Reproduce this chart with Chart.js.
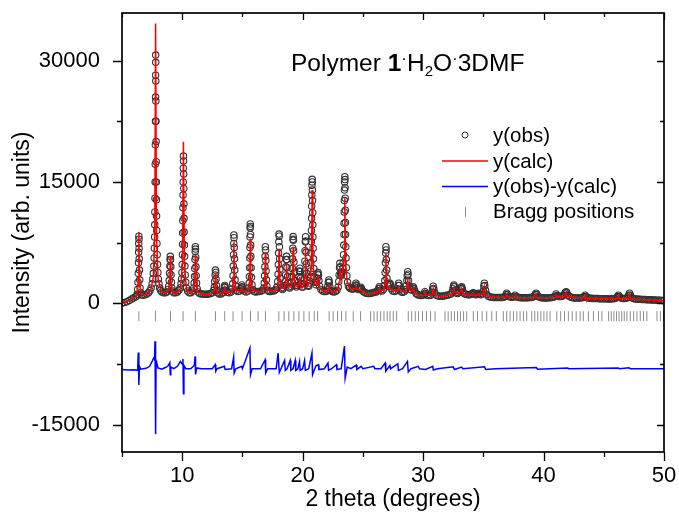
<!DOCTYPE html>
<html>
<head>
<meta charset="utf-8">
<script src="https://cdn.jsdelivr.net/npm/chart.js@4.4.0/dist/chart.umd.min.js"></script>
<style>
  html, body { margin: 0; padding: 0; background: #fff; }
  #wrap { width: 679px; height: 514px; }
</style>
</head>
<body>
<div id="wrap"><canvas id="chart" width="679" height="514"></canvas></div>
<script>
// 2 theta axis labels and intensity labels
const xMajor = [10, 20, 30, 40, 50];
const xMinor = [5, 15, 25, 35, 45];
const yMajor = [-15000, 0, 15000, 30000];
const yMinor = [-7500, 7500, 22500];

const yObs = [
  [5.00,40],[5.20,90],[5.40,180],[5.60,330],[5.80,520],[5.95,650],[6.10,760],[6.20,850],
  [6.26,1100],[6.30,1700],[6.33,2600],[6.35,3700],[6.37,5000],[6.38,6300],[6.39,7400],[6.40,8300],[6.41,7900],[6.42,6800],[6.43,5500],[6.45,4100],[6.47,2900],[6.50,1900],[6.54,1300],
  [6.62,1050],[6.75,1000],[6.90,1050],[7.05,1150],[7.20,1300],[7.32,1550],[7.42,1900],[7.50,2400],[7.56,3000],
  [7.60,3700],[7.64,4600],[7.67,5600],[7.69,6800],[7.71,8200],[7.72,9700],[7.73,11300],[7.74,13000],[7.75,15000],[7.76,17200],[7.77,19600],[7.78,22500],[7.785,25500],[7.79,28200],[7.795,30700],
  [7.80,29800],[7.805,27500],[7.81,25000],[7.82,22500],[7.83,20000],[7.84,17500],[7.85,15000],[7.86,12800],[7.87,10800],[7.88,9000],[7.90,7400],[7.92,6000],[7.95,4800],[7.98,3800],[8.02,3000],[8.07,2400],[8.13,1900],[8.20,1600],
  [8.30,1400],[8.45,1300],[8.60,1300],[8.72,1400],[8.82,1700],
  [8.88,2100],[8.92,2800],[8.95,3700],[8.97,4600],[8.99,5400],[9.01,5800],[9.03,5400],[9.05,4500],[9.07,3500],[9.10,2600],[9.14,1900],[9.20,1500],
  [9.30,1300],[9.45,1300],[9.60,1400],[9.72,1600],[9.82,1900],[9.90,2400],[9.95,3000],
  [9.98,3800],[10.00,4800],[10.02,6000],[10.03,7300],[10.04,8700],[10.05,10200],[10.06,11800],[10.07,13400],[10.08,15000],[10.09,16700],[10.10,18200],
  [10.11,17600],[10.12,16000],[10.13,14200],[10.14,12300],[10.15,10500],[10.16,8800],[10.18,7200],[10.20,5800],[10.22,4600],[10.25,3500],[10.29,2600],[10.35,1900],[10.45,1500],
  [10.58,1300],[10.72,1300],[10.85,1500],[10.95,1900],
  [10.99,2500],[11.02,3300],[11.04,4300],[11.06,5400],[11.08,6400],[11.09,7000],[11.10,6700],[11.12,5700],[11.14,4500],[11.16,3400],[11.19,2500],[11.24,1800],[11.32,1400],
  [11.45,1200],[11.60,1150],[11.75,1100],[11.90,1100],[12.05,1100],[12.20,1150],[12.35,1200],[12.50,1300],[12.62,1600],
  [12.67,2000],[12.70,2700],[12.73,3500],[12.76,4100],[12.78,3800],[12.81,3000],[12.84,2200],[12.89,1600],[12.96,1300],
  [13.08,1150],[13.22,1150],[13.35,1300],[13.45,1600],
  [13.50,2000],[13.53,2200],[13.57,2000],[13.62,1600],
  [13.75,1350],[13.90,1300],[14.05,1400],[14.15,1800],
  [14.19,2400],[14.22,3400],[14.24,4600],[14.26,6000],[14.28,7400],[14.29,8450],[14.30,8100],[14.32,6900],[14.34,5500],[14.36,4100],[14.39,2900],[14.43,2100],[14.50,1600],
  [14.62,1450],[14.75,1500],[14.85,1800],
  [14.90,2000],[14.94,2260],[14.98,2000],[15.03,1700],
  [15.15,1500],[15.30,1400],[15.45,1500],[15.53,1900],
  [15.56,2500],[15.58,3300],[15.60,4400],[15.61,5600],[15.62,6900],[15.63,8200],[15.64,9300],[15.65,9800],[15.66,9500],[15.67,8500],[15.68,7200],[15.70,5800],[15.72,4400],[15.75,3200],[15.79,2300],[15.86,1700],
  [15.98,1450],[16.12,1400],[16.26,1450],[16.40,1450],[16.55,1500],[16.68,1600],[16.78,1900],
  [16.81,2500],[16.84,3400],[16.86,4500],[16.88,5800],[16.90,7000],[16.92,6600],[16.94,5300],[16.96,4000],[16.99,2900],[17.03,2100],[17.10,1600],
  [17.22,1450],[17.36,1450],[17.50,1500],[17.64,1550],[17.76,1700],[17.86,2000],
  [17.93,2700],[17.96,3600],[17.98,4800],[18.00,6200],[18.02,7600],[18.04,8550],[18.05,8300],[18.07,7000],[18.09,5500],[18.11,4200],[18.14,3100],[18.18,2300],[18.24,1900],
  [18.32,1700],[18.42,1900],[18.50,2200],
  [18.55,2700],[18.58,3500],[18.61,4500],[18.64,5400],[18.66,5800],[18.68,5400],[18.71,4400],[18.74,3300],[18.78,2500],[18.84,2000],
  [18.92,1900],[19.02,2100],[19.08,2600],
  [19.11,3300],[19.14,4300],[19.16,5500],[19.18,6800],[19.20,7900],[19.21,8250],[19.23,7800],[19.25,6500],[19.27,5100],[19.30,3800],[19.34,2800],[19.40,2200],
  [19.48,2000],[19.58,2200],
  [19.66,2600],[19.70,3300],[19.73,4000],[19.76,4330],[19.79,3900],[19.82,3100],[19.87,2400],[19.94,2000],
  [20.02,2000],[20.08,2400],
  [20.13,3000],[20.16,4000],[20.18,5200],[20.20,6500],[20.22,7600],[20.24,8230],[20.26,7700],[20.28,6300],[20.30,4900],[20.33,3700],[20.37,2800],[20.43,2200],
  [20.50,2100],[20.57,2500],[20.62,3200],
  [20.66,4000],[20.68,5000],[20.70,6200],[20.72,7600],[20.73,9000],[20.74,10500],[20.75,12000],[20.76,13400],[20.77,14600],[20.79,15330],
  [20.80,15000],[20.81,14000],[20.82,12700],[20.83,11200],[20.84,9700],[20.85,8200],[20.87,6800],[20.89,5500],[20.92,4300],[20.96,3300],[21.02,2600],
  [21.10,2300],[21.16,2600],
  [21.21,3100],[21.25,3600],[21.28,3790],[21.31,3500],[21.35,2800],[21.41,2100],
  [21.52,1700],[21.66,1500],[21.80,1450],[21.94,1450],[22.04,1650],
  [22.09,2100],[22.13,2600],[22.17,2880],[22.21,2600],[22.26,2000],[22.33,1600],
  [22.45,1450],[22.58,1400],[22.72,1450],[22.85,1600],[22.95,2000],
  [23.00,2700],[23.03,3500],[23.06,4400],[23.09,4940],[23.12,4500],[23.15,3800],[23.18,3400],[23.22,3600],
  [23.28,3900],[23.32,4300],[23.36,5000],[23.39,6000],[23.41,7200],[23.43,8500],[23.44,9900],[23.45,11300],[23.46,12700],[23.47,14000],[23.48,15000],[23.50,15650],
  [23.51,15300],[23.52,14300],[23.53,13000],[23.54,11500],[23.55,10000],[23.56,8500],[23.58,7000],[23.60,5600],[23.63,4400],[23.67,3400],[23.73,2600],[23.80,2100],
  [23.90,1900],[24.02,1800],[24.14,1750],[24.26,1800],[24.35,2000],
  [24.38,2200],[24.42,2470],[24.46,2250],[24.52,1900],
  [24.62,1700],[24.72,1750],
  [24.79,1850],[24.83,1980],[24.88,1800],
  [24.98,1500],[25.12,1350],[25.26,1250],[25.40,1200],[25.54,1200],[25.68,1250],[25.82,1300],[25.96,1350],[26.10,1400],[26.22,1550],
  [26.31,1800],[26.36,2050],[26.41,1850],[26.48,1600],
  [26.58,1500],[26.70,1700],[26.78,2200],
  [26.82,2800],[26.85,3800],[26.87,5000],[26.89,6200],[26.91,7000],[26.93,6600],[26.95,5400],[26.97,4100],[27.00,3100],[27.05,2400],
  [27.13,2100],[27.20,2350],[27.24,2470],[27.28,2300],[27.35,1800],
  [27.48,1500],[27.62,1450],[27.75,1550],[27.86,1800],
  [27.92,2200],[27.97,2470],[28.02,2200],[28.09,1700],
  [28.20,1400],[28.32,1350],[28.44,1450],[28.55,1700],[28.62,2200],
  [28.65,2800],[28.68,3400],[28.72,3900],[28.75,3600],[28.79,2800],[28.85,2100],
  [28.95,1700],[29.05,1650],
  [29.13,1850],[29.18,2050],[29.23,1850],[29.30,1500],
  [29.42,1200],[29.55,1050],[29.68,1000],[29.82,950],[29.96,1000],[30.08,1150],
  [30.15,1430],[30.21,1200],
  [30.34,1000],[30.48,950],[30.62,1000],[30.74,1300],
  [30.79,1750],[30.84,2100],[30.89,1800],[30.96,1300],
  [31.10,1000],[31.25,900],[31.40,850],[31.55,850],[31.70,900],[31.85,950],[32.00,1000],[32.15,1050],[32.30,1150],[32.42,1400],[32.48,1800],
  [32.52,2100],[32.56,2260],[32.60,2050],[32.66,1600],[32.74,1300],[32.85,1200],[32.95,1300],[33.05,1500],[33.12,1800],
  [33.16,1950],[33.20,2050],[33.25,1800],[33.32,1400],
  [33.45,1150],[33.58,1100],[33.72,1050],[33.85,1050],[33.98,1100],[34.08,1200],
  [34.17,1310],[34.25,1150],
  [34.38,1050],[34.50,1100],
  [34.58,1230],[34.66,1100],[34.80,1050],[34.92,1150],[35.00,1500],
  [35.04,2100],[35.08,2470],[35.12,2200],[35.18,1600],[35.28,1100],
  [35.42,850],[35.56,780],[35.70,740],[35.84,720],[35.98,710],[36.12,700],[36.26,700],[36.40,710],[36.54,720],[36.68,740],[36.80,820],
  [36.88,1050],[36.94,1240],[37.00,1050],[37.10,820],
  [37.24,760],[37.38,740],[37.50,780],
  [37.63,1000],[37.72,840],
  [37.86,740],[38.00,700],[38.14,680],[38.28,670],[38.42,670],[38.56,680],[38.70,690],[38.84,700],[38.98,720],[39.10,780],[39.24,900],
  [39.32,1080],[39.38,1240],[39.44,1080],[39.54,840],
  [39.68,730],[39.82,690],[39.96,670],[40.10,660],[40.24,660],[40.38,670],[40.52,680],[40.66,700],[40.80,740],[40.94,820],
  [41.04,1150],[41.12,950],
  [41.26,830],[41.40,820],[41.52,860],[41.64,950],[41.74,1150],
  [41.81,1300],[41.87,1430],[41.93,1300],[42.02,1000],
  [42.16,820],[42.30,740],[42.44,690],[42.58,660],[42.72,640],[42.86,640],[43.00,650],[43.14,670],[43.28,720],[43.38,820],
  [43.45,1000],[43.54,800],
  [43.68,670],[43.82,630],[43.96,610],[44.10,600],[44.24,590],[44.38,580],[44.52,580],[44.66,570],[44.80,570],[44.94,560],[45.08,550],[45.22,550],[45.36,540],[45.50,540],[45.64,550],[45.78,570],[45.92,600],[46.06,670],[46.14,820],
  [46.22,1000],[46.30,800],
  [46.44,650],[46.58,600],[46.72,590],[46.86,610],[46.98,720],[47.07,980],
  [47.14,1240],[47.21,980],[47.32,700],
  [47.46,580],[47.60,540],[47.74,520],[47.88,500],[48.02,480],[48.16,470],[48.30,460],[48.44,450],[48.58,440],[48.72,430],[48.86,420],[49.00,410],[49.14,400],[49.28,390],[49.42,380],[49.56,370],[49.70,360],[49.84,350],[49.98,340]
];

// calculated profile, [2theta, counts]
const yCalc = [
  [5.00,30],[5.30,150],[5.60,320],[5.90,600],[6.15,800],[6.28,1200],[6.35,3100],[6.40,8800],[6.45,3100],[6.55,1300],[6.80,1000],[7.10,1150],[7.40,1700],
  [7.60,3200],[7.72,8500],[7.79,34600],[7.86,8500],[8.00,3000],[8.25,1500],[8.60,1200],[8.88,1600],[8.96,2600],[9.01,5850],[9.06,2600],[9.18,1400],
  [9.50,1200],[9.85,1800],[10.02,5000],[10.10,19970],[10.18,5000],[10.35,1700],[10.70,1200],[10.97,1700],[11.04,2800],[11.09,5950],[11.14,2800],[11.28,1400],
  [11.80,1050],[12.40,1150],[12.66,1500],[12.72,2000],[12.76,3700],[12.80,2000],[12.90,1300],[13.30,1150],[13.46,1350],[13.53,1900],[13.60,1350],
  [14.10,1300],[14.20,2000],[14.25,3200],[14.29,7600],[14.33,3200],[14.45,1600],[14.85,1450],[14.94,1900],[15.03,1450],
  [15.45,1400],[15.57,2200],[15.61,3400],[15.65,8000],[15.69,3400],[15.82,1600],[16.60,1400],[16.80,2100],[16.86,3200],[16.90,6300],[16.94,3200],[17.06,1600],
  [17.80,1600],[17.95,2300],[18.00,3300],[18.04,6750],[18.08,3300],[18.20,1900],[18.48,1900],[18.58,2500],[18.62,3200],[18.66,4900],[18.70,3200],[18.80,2000],
  [19.05,2000],[19.13,2800],[19.17,3700],[19.21,7000],[19.25,3700],[19.36,2200],[19.62,2000],[19.72,2500],[19.76,3290],[19.80,2500],[19.95,1900],
  [20.10,2300],[20.20,3500],[20.24,7200],[20.28,3500],[20.40,2100],[20.62,2700],[20.73,5000],[20.79,14000],[20.85,5000],[21.00,2400],
  [21.18,2300],[21.24,2700],[21.28,3090],[21.32,2600],[21.45,1800],[22.00,1400],[22.12,1800],[22.17,2390],[22.22,1800],[22.40,1350],
  [22.90,1600],[23.03,2600],[23.09,4450],[23.15,3000],[23.30,3500],[23.44,5500],[23.50,12980],[23.56,5000],[23.70,2600],[24.00,1700],
  [24.36,1800],[24.42,2050],[24.48,1800],[24.78,1550],[24.83,1700],[24.88,1550],[25.30,1150],[26.20,1350],[26.31,1500],[26.36,1800],[26.41,1500],
  [26.75,1700],[26.86,2800],[26.91,6180],[26.96,2800],[27.10,1800],[27.20,1900],[27.24,2100],[27.28,1800],[27.85,1500],[27.92,1700],[27.97,2100],[28.02,1700],
  [28.55,1400],[28.66,2000],[28.72,3090],[28.78,2000],[29.00,1500],[29.13,1550],[29.18,1800],[29.23,1550],[29.60,950],[30.10,1000],[30.15,1300],[30.20,1000],
  [30.75,1050],[30.80,1400],[30.84,1800],[30.88,1400],[31.00,1000],[31.60,800],[32.40,1100],[32.51,1400],[32.56,1900],[32.61,1400],[32.85,1150],
  [33.14,1400],[33.20,1800],[33.26,1400],[33.50,1050],[34.12,1000],[34.17,1150],[34.22,1000],[34.53,1000],[34.58,1100],[34.63,1000],
  [35.00,1200],[35.08,2000],[35.16,1200],[35.40,800],[36.80,700],[36.94,1100],[37.05,750],[37.58,720],[37.63,900],[37.68,700],
  [39.25,680],[39.38,1100],[39.48,680],[40.96,720],[41.04,1000],[41.10,780],[41.75,850],[41.87,1300],[41.97,850],
  [43.40,640],[43.45,900],[43.50,620],[46.15,580],[46.22,900],[46.28,580],[47.05,600],[47.14,1100],[47.22,560],[48.50,420],[50.00,320]
];

// y(obs)-y(calc), [2theta, counts] before the plot offset
const yDiff = [
  [5.00,-100],[5.50,-150],[6.00,-120],[6.30,-200],[6.35,2000],[6.40,-2000],[6.45,300],[6.55,-50],[7.00,50],[7.30,300],[7.50,900],[7.62,1300],[7.70,1100],
  [7.74,3400],[7.79,-8100],[7.83,1000],[7.88,700],[8.00,100],[8.30,-50],[8.60,150],[8.80,300],[8.97,740],[9.01,-740],[9.05,200],[9.30,0],[9.60,300],
  [9.85,900],[10.00,600],[10.06,1200],[10.10,-3100],[10.14,400],[10.30,0],[10.70,0],[11.00,400],[11.07,1520],[11.11,-700],[11.20,100],[11.60,0],
  [12.50,0],[12.74,500],[12.79,-300],[12.90,0],[13.50,300],[13.56,-100],[14.10,0],[14.27,1440],[14.31,-530],[14.45,0],[14.94,300],[15.00,0],
  [15.62,2550],[15.67,-740],[15.80,0],[16.50,0],[16.88,1110],[16.93,-530],[17.10,0],[17.80,0],[17.96,1920],[18.06,-460],[18.20,0],
  [18.50,1030],[18.56,-200],[18.70,0],[18.97,1030],[19.02,-200],[19.20,0],[19.38,1030],[19.43,-200],[19.60,0],[19.74,900],[19.79,-200],
  [20.00,0],[20.16,1030],[20.22,-200],[20.50,0],[20.77,1930],[20.82,-740],[21.00,0],[21.12,400],[21.30,500],[21.35,-100],[21.80,0],
  [22.10,700],[22.15,-200],[22.40,0],[22.80,500],[22.85,-100],[23.20,0],[23.47,2800],[23.53,-1150],[23.70,200],[24.00,0],[24.45,450],[24.50,-100],
  [24.85,300],[25.00,0],[25.90,300],[26.00,0],[26.50,0],[26.85,700],[26.90,-300],[27.24,400],[27.30,0],[27.90,600],[27.95,-200],[28.30,0],
  [28.70,900],[28.77,-400],[29.00,0],[29.60,300],[29.70,0],[30.20,-100],[30.80,300],[30.85,-150],[31.20,0],[32.50,250],[32.60,-100],
  [33.20,200],[33.30,0],[35.10,250],[35.20,-100],[36.00,0],[39.40,150],[39.50,-50],[42.00,100],[42.10,0],[46.20,100],[46.30,0],[47.10,120],[47.20,0],[50.00,0]
];

// reflection positions (2theta)
const braggPos = [
  6.40, 7.78, 9.03, 10.07, 11.09, 12.76, 13.53, 14.22, 14.97, 15.67, 16.30, 16.91, 18.02, 18.46, 18.85, 19.27, 19.69, 20.10,
  20.54, 20.96, 21.24, 22.20, 22.53, 22.90, 23.23, 23.59, 24.20, 24.81, 25.64, 25.92, 26.19, 26.47, 26.75, 27.02, 27.25, 27.52, 27.80,
  28.77, 29.05, 29.35, 29.62, 29.95, 30.28, 30.62, 30.99, 31.82, 32.08, 32.34, 32.60, 32.86, 33.10, 33.36, 33.62,
  34.17, 34.52, 34.90, 35.28, 35.70, 36.08, 36.66, 36.94, 37.22, 37.50, 37.78, 38.05, 38.33, 38.60,
  39.02, 39.27, 39.52, 39.78, 40.03, 40.28, 40.54, 41.10, 41.42, 41.74, 42.06, 42.38, 42.71, 43.04,
  43.30, 43.72, 44.14, 44.56, 44.84, 45.40, 45.62, 45.84, 46.06, 46.27, 46.49, 46.70, 46.92,
  47.20, 47.48, 47.75, 48.03, 48.30, 48.58, 49.42, 49.70, 49.96
];

const DIFF_OFFSET = -8100;
const BRAGG_LEVEL = -1600;
const FONT = "'Liberation Sans', Arial, sans-serif";

const toXY = (pairs, shift = 0) => pairs.map(p => ({ x: p[0], y: p[1] + shift }));

// frame plus tick marks: outward on left/bottom, inward on top/right
const frameTicks = {
  id: 'frameTicks',
  afterDraw(chart) {
    const { ctx, chartArea: a, scales: { x, y } } = chart;
    ctx.save();
    ctx.strokeStyle = '#000';
    ctx.lineWidth = 1.3;
    ctx.beginPath();
    const xt = (v, outLen, inLen) => {
      const px = Math.round(x.getPixelForValue(v)) + 0.5;
      ctx.moveTo(px, a.bottom); ctx.lineTo(px, a.bottom + outLen);
      ctx.moveTo(px, a.top); ctx.lineTo(px, a.top + inLen);
    };
    const yt = (v, outLen, inLen) => {
      const py = Math.round(y.getPixelForValue(v)) + 0.5;
      ctx.moveTo(a.left, py); ctx.lineTo(a.left - outLen, py);
      ctx.moveTo(a.right, py); ctx.lineTo(a.right - inLen, py);
    };
    xMajor.forEach(v => xt(v, 9, 7));
    xMinor.forEach(v => xt(v, 5, 4));
    yMajor.forEach(v => yt(v, 9, 7));
    yMinor.forEach(v => yt(v, 5, 4));
    ctx.stroke();
    ctx.lineWidth = 1.7;
    ctx.strokeRect(a.left, a.top, a.right - a.left, a.bottom - a.top);
    ctx.restore();
  }
};

// title and legend inside the plot
const annotations = {
  id: 'annotations',
  afterDraw(chart) {
    const { ctx } = chart;
    ctx.save();
    ctx.fillStyle = '#000';
    ctx.textBaseline = 'alphabetic';
    let cx = 291;
    const base = 71;
    const put = (txt, font, dy = 0) => {
      ctx.font = font;
      ctx.fillText(txt, cx, base + dy);
      cx += ctx.measureText(txt).width;
    };
    put('Polymer ', `24.5px ${FONT}`);
    put('1', `bold 24.5px ${FONT}`);
    put('\u00B7', `17px ${FONT}`, -7);
    put('H', `24.5px ${FONT}`);
    put('2', `15px ${FONT}`, 5);
    put('O', `24.5px ${FONT}`);
    put('\u00B7', `17px ${FONT}`, -7);
    put('3DMF', `24.5px ${FONT}`);

    // legend
    ctx.font = `20.5px ${FONT}`;
    ctx.textBaseline = 'middle';
    const tx = 493;
    ctx.lineWidth = 1;
    ctx.strokeStyle = '#333';
    ctx.beginPath(); ctx.arc(465, 135, 3, 0, Math.PI * 2); ctx.stroke();
    ctx.fillText('y(obs)', tx, 136);
    ctx.lineWidth = 1.6;
    ctx.strokeStyle = '#f00';
    ctx.beginPath(); ctx.moveTo(442, 161); ctx.lineTo(488, 161); ctx.stroke();
    ctx.fillText('y(calc)', tx, 162);
    ctx.strokeStyle = '#00f';
    ctx.beginPath(); ctx.moveTo(442, 186.5); ctx.lineTo(488, 186.5); ctx.stroke();
    ctx.fillText('y(obs)-y(calc)', tx, 187);
    ctx.lineWidth = 1;
    ctx.strokeStyle = '#8c8c8c';
    ctx.beginPath(); ctx.moveTo(465.5, 207); ctx.lineTo(465.5, 217); ctx.stroke();
    ctx.fillText('Bragg positions', tx, 212);
    ctx.restore();
  }
};

new Chart(document.getElementById('chart'), {
  type: 'scatter',
  data: {
    datasets: [
      {
        label: 'y(calc)',
        data: toXY(yCalc),
        showLine: true,
        borderColor: '#f00',
        borderWidth: 1.5,
        pointRadius: 0,
        order: 0
      },
      {
        label: 'y(obs)',
        data: toXY(yObs),
        showLine: false,
        pointStyle: 'circle',
        pointRadius: 3.2,
        borderColor: '#333',
        backgroundColor: 'rgba(0,0,0,0)',
        pointBorderWidth: 1.1,
        order: 1
      },
      {
        label: 'y(obs)-y(calc)',
        data: toXY(yDiff, DIFF_OFFSET),
        showLine: true,
        borderColor: '#00f',
        borderWidth: 1.5,
        pointRadius: 0,
        order: 2
      },
      {
        label: 'Bragg positions',
        data: braggPos.map(v => ({ x: v, y: BRAGG_LEVEL })),
        showLine: false,
        pointStyle: 'line',
        rotation: 90,
        pointRadius: 5,
        borderColor: '#8c8c8c',
        pointBorderWidth: 1,
        order: 3
      }
    ]
  },
  options: {
    responsive: false,
    animation: false,
    devicePixelRatio: 1,
    events: [],
    layout: { padding: { left: 0, top: 13, right: 15, bottom: 0 } },
    plugins: { legend: { display: false }, tooltip: { enabled: false } },
    scales: {
      x: {
        type: 'linear',
        min: 5,
        max: 50,
        afterBuildTicks: s => { s.ticks = xMajor.map(v => ({ value: v })); },
        afterFit: s => { s.height = 62; s.paddingLeft = 0; s.paddingRight = 0; },
        grid: { display: false },
        border: { display: false },
        ticks: { color: '#000', font: { family: FONT, size: 22 }, padding: 3, maxRotation: 0 },
        title: { display: true, text: '2 theta (degrees)', color: '#000', font: { family: FONT, size: 23 }, padding: { top: 0, bottom: 1 } }
      },
      y: {
        type: 'linear',
        min: -18400,
        max: 35900,
        afterBuildTicks: s => { s.ticks = yMajor.map(v => ({ value: v })); },
        afterFit: s => { s.width = 122; s.paddingTop = 0; s.paddingBottom = 0; },
        grid: { display: false },
        border: { display: false },
        ticks: { color: '#000', font: { family: FONT, size: 22 }, padding: 14, callback: v => String(v) },
        title: { display: true, text: 'Intensity (arb. units)', color: '#000', font: { family: FONT, size: 23 }, padding: { top: 9, bottom: 0 } }
      }
    }
  },
  plugins: [frameTicks, annotations]
});
</script>
</body>
</html>
